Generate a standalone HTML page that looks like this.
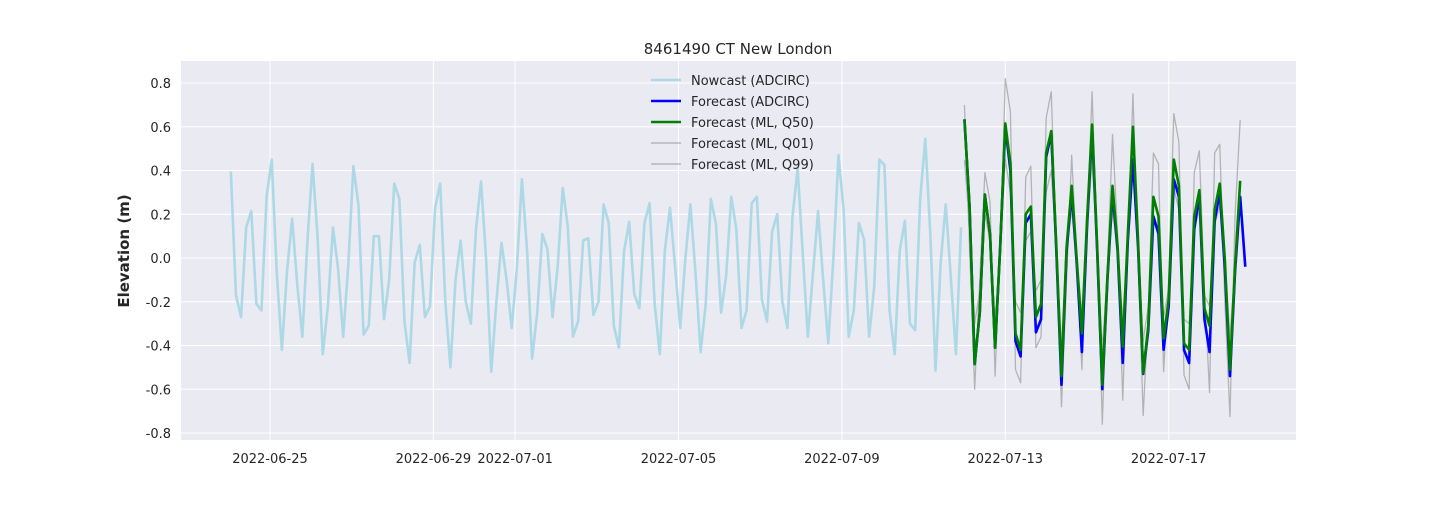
<!DOCTYPE html>
<html><head><meta charset="utf-8"><style>
body{margin:0;background:#fff;width:1440px;height:504px;overflow:hidden}
svg text{font-family:"DejaVu Sans","Liberation Sans",sans-serif;fill:#262626}
</style></head><body>
<svg id="chart" width="1440" height="504" xmlns="http://www.w3.org/2000/svg">
<rect x="181" y="61" width="1115" height="379" fill="#EAEAF2"/>
<g id="grid"></g>
<g id="series"></g>
<g id="ticks"></g>
<text x="738" y="54" text-anchor="middle" font-size="15">8461490 CT New London</text>
<text transform="translate(129,251) rotate(-90)" text-anchor="middle" font-size="15" font-weight="bold">Elevation (m)</text>
<g id="legend"></g>
</svg>
<script>
const yTicks=[0.8,0.6,0.4,0.2,0.0,-0.2,-0.4,-0.6,-0.8];
const xTickLabels=["2022-06-25","2022-06-29","2022-07-01","2022-07-05","2022-07-09","2022-07-13","2022-07-17"];
const nowcastStart="2022-06-24T01:00:00Z";
const forecastStart="2022-07-12T00:00:00Z";
const stepHours=3;
const nowcast=[0.395,-0.17,-0.27,0.14,0.215,-0.21,-0.24,0.28,0.45,-0.07,-0.42,-0.06,0.18,-0.12,-0.36,0.08,0.43,0.09,-0.44,-0.22,0.14,-0.05,-0.36,-0.03,0.42,0.24,-0.35,-0.31,0.10,0.10,-0.28,-0.10,0.34,0.27,-0.29,-0.48,-0.02,0.06,-0.27,-0.22,0.23,0.34,-0.20,-0.50,-0.10,0.08,-0.20,-0.30,0.13,0.35,-0.01,-0.52,-0.20,0.07,-0.10,-0.32,-0.05,0.36,0.04,-0.46,-0.25,0.11,0.04,-0.27,-0.04,0.32,0.14,-0.36,-0.29,0.08,0.09,-0.26,-0.20,0.245,0.16,-0.31,-0.41,0.03,0.165,-0.165,-0.23,0.16,0.25,-0.21,-0.44,0.035,0.23,-0.04,-0.32,-0.006,0.245,-0.07,-0.43,-0.21,0.27,0.155,-0.25,-0.08,0.28,0.13,-0.32,-0.24,0.25,0.28,-0.19,-0.29,0.12,0.20,-0.20,-0.32,0.19,0.41,0.02,-0.36,-0.07,0.215,-0.10,-0.39,0.00,0.47,0.22,-0.36,-0.24,0.16,0.085,-0.36,-0.13,0.45,0.425,-0.24,-0.44,0.035,0.17,-0.30,-0.33,0.27,0.545,0.10,-0.515,-0.025,0.245,-0.09,-0.44,0.14];
const forecastAdcirc=[0.634,0.235,-0.485,-0.25,0.29,0.11,-0.41,0.05,0.60,0.40,-0.38,-0.45,0.16,0.20,-0.34,-0.28,0.46,0.57,0.03,-0.58,0.03,0.30,-0.03,-0.43,0.14,0.59,0.03,-0.60,-0.10,0.30,0.03,-0.48,0.08,0.45,0.05,-0.53,-0.33,0.19,0.11,-0.42,-0.22,0.36,0.28,-0.42,-0.48,0.13,0.29,-0.28,-0.43,0.17,0.30,-0.05,-0.54,-0.06,0.28,-0.04];
const forecastQ50=[0.634,0.235,-0.485,-0.25,0.29,0.11,-0.41,0.05,0.615,0.43,-0.345,-0.42,0.20,0.235,-0.27,-0.21,0.48,0.58,0.05,-0.54,0.05,0.33,-0.01,-0.345,0.17,0.61,0.05,-0.58,-0.085,0.33,0.05,-0.405,0.11,0.60,0.08,-0.527,-0.31,0.28,0.19,-0.367,-0.19,0.45,0.33,-0.39,-0.42,0.19,0.31,-0.23,-0.31,0.22,0.34,-0.01,-0.51,-0.04,0.353];
const forecastQ01=[0.45,0.15,-0.30,-0.15,0.20,0.08,-0.28,0.03,0.45,0.30,-0.20,-0.25,0.08,0.12,-0.15,-0.10,0.30,0.40,0.03,-0.40,0.03,0.22,-0.01,-0.25,0.12,0.45,0.03,-0.42,-0.06,0.22,0.03,-0.28,0.08,0.42,0.05,-0.38,-0.22,0.20,0.13,-0.27,-0.14,0.32,0.22,-0.28,-0.30,0.13,0.22,-0.17,-0.22,0.15,0.24,-0.01,-0.36,-0.03,0.25];
const forecastQ99=[0.70,0.05,-0.60,-0.10,0.39,0.26,-0.54,0.05,0.82,0.67,-0.51,-0.57,0.37,0.42,-0.41,-0.36,0.64,0.76,0.05,-0.68,-0.10,0.47,0.00,-0.51,0.15,0.76,0.05,-0.76,-0.05,0.565,0.10,-0.65,0.05,0.75,0.00,-0.72,-0.25,0.48,0.43,-0.52,-0.10,0.66,0.53,-0.535,-0.60,0.39,0.49,-0.15,-0.615,0.48,0.52,-0.20,-0.725,0.20,0.63];

const NS="http://www.w3.org/2000/svg";
const X0=Date.parse("2022-06-25T00:00:00Z"), PXDAY=40.85, XPX0=270;
function xScale(ms){return XPX0+(ms-X0)/86400000*PXDAY;}
function yScale(v){return 258-v*218.75;}
function mk(tag,attrs,parent){const e=document.createElementNS(NS,tag);for(const k in attrs)e.setAttribute(k,attrs[k]);parent.appendChild(e);return e;}
const grid=document.getElementById('grid'),ticks=document.getElementById('ticks');
yTicks.forEach(v=>{
  const l=mk('line',{x1:181,x2:1296,y1:yScale(v),y2:yScale(v),stroke:'#fff','stroke-width':1},grid);
  
  
  const t=mk('text',{x:171,y:yScale(v)+5,'text-anchor':'end','font-size':13},ticks);
  t.textContent=v.toFixed(1);
  
  
});
xTickLabels.forEach(s=>{
  const x=xScale(Date.parse(s+"T00:00:00Z"));
  const l=mk('line',{x1:x,x2:x,y1:61,y2:440,stroke:'#fff','stroke-width':1},grid);
  
  
  const t=mk('text',{x:x,y:463,'text-anchor':'middle','font-size':13},ticks);
  t.textContent=s;
  
  
});
const series=document.getElementById('series');
function drawLine(vals,start,color,w,name,op){
  const s=Date.parse(start);
  const pts=vals.map((v,i)=>xScale(s+i*stepHours*3600000).toFixed(2)+","+yScale(v).toFixed(2)).join(" ");
  const p=mk('polyline',{points:pts,fill:'none',stroke:color,'stroke-width':w,'stroke-linejoin':'round','stroke-opacity':op},series);
  
  
}
drawLine(nowcast,nowcastStart,'#ADD8E6',2.6,'nowcast-adcirc-line',1);
drawLine(forecastQ01,forecastStart,'#a0a0a0',1.3,'forecast-ml-q01-line',0.75);
drawLine(forecastQ99,forecastStart,'#a0a0a0',1.3,'forecast-ml-q99-line',0.75);
drawLine(forecastAdcirc,forecastStart,'#0000ff',2.6,'forecast-adcirc-line',1);
drawLine(forecastQ50,forecastStart,'#008000',2.6,'forecast-ml-q50-line',1);
const legend=document.getElementById('legend');


const legendLabels=["Nowcast (ADCIRC)","Forecast (ADCIRC)","Forecast (ML, Q50)","Forecast (ML, Q01)","Forecast (ML, Q99)"];
const legendColors=['#ADD8E6','#0000ff','#008000','#b8b8b8','#b8b8b8'];
const legendWidths=[2.6,2.6,2.6,1.5,1.5];
legendLabels.forEach((lab,i)=>{
  const y=80+i*21;
  const g=mk('g',{},legend);
  
  
  mk('line',{x1:651,x2:681,y1:y,y2:y,stroke:legendColors[i],'stroke-width':legendWidths[i]},g);
  const t=mk('text',{x:691,y:y+5,'font-size':13},g);
  t.textContent=lab;
});
</script>
</body></html>
